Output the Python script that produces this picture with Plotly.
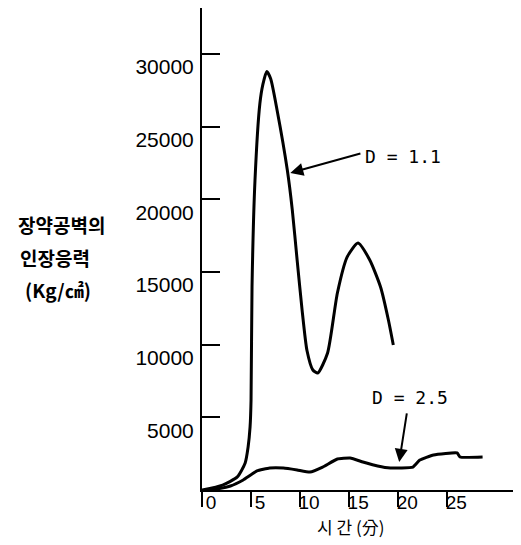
import plotly.graph_objects as go

# D = 1.1 series (time, stress)
t_d11 = [0, 2.1, 3.6, 4.4, 4.7, 4.9, 5.0, 5.1, 5.4, 5.9, 6.2, 6.6, 7.0, 7.65, 8.7, 9.2, 9.7, 10.2,
         10.7, 11.3, 11.8, 12.8, 13.8, 14.8, 15.9, 17.1, 18.2, 19.0, 19.5]
v_d11 = [0, 340, 900, 1860, 2960, 4340, 6190, 14000, 21300, 26600, 27900, 28800, 28300, 26150,
         22000, 19300, 15800, 12400, 9600, 8260, 8050, 9430, 13560, 16040, 17000, 15830, 13970,
         11700, 9980]

# D = 2.5 series
t_d25 = [0.4, 1.5, 2.9, 4.2, 5.6, 6.9, 8.3, 9.7, 11.0, 12.3, 13.8, 15.1, 16.4, 17.9, 19.2,
         21.5, 22.2, 23.6, 26.0, 26.3, 28.6]
v_d25 = [0, 70, 275, 690, 1310, 1510, 1510, 1380, 1240, 1580, 2130, 2200, 1930, 1650, 1510,
         1580, 2060, 2410, 2550, 2270, 2270]

y_ticks = [5000, 10000, 15000, 20000, 25000, 30000]
x_ticks = [0, 5, 10, 15, 20, 25]

fig = go.Figure()
fig.add_trace(go.Scatter(x=t_d11, y=v_d11, mode="lines",
                         line=dict(color="black", width=3, shape="spline", smoothing=0.6)))
fig.add_trace(go.Scatter(x=t_d25, y=v_d25, mode="lines",
                         line=dict(color="black", width=3, shape="spline", smoothing=0.4)))

fig.update_layout(
    width=513, height=537,
    margin=dict(l=194, r=8, t=0, b=55),
    paper_bgcolor="white", plot_bgcolor="white",
    showlegend=False,
    font=dict(family="Liberation Sans", color="black"),
)
fig.update_xaxes(range=[0, 31.7], showgrid=False, zeroline=False,
                 showline=True, linecolor="black", linewidth=2,
                 tickvals=x_ticks, ticktext=[str(v) for v in x_ticks],
                 ticks="outside", ticklen=15, tickwidth=2, tickcolor="black",
                 ticklabelshift=9, ticklabelstandoff=-21,
                 tickfont=dict(size=19, family="Liberation Sans"))
fig.update_yaxes(range=[0, 33170], showgrid=False, zeroline=False,
                 showline=True, linecolor="black", linewidth=2,
                 tickvals=y_ticks, ticktext=[str(v) for v in y_ticks],
                 ticks="inside", ticklen=18, tickwidth=2, tickcolor="black",
                 ticklabelshift=13, ticklabelstandoff=2,
                 tickfont=dict(size=21, family="Liberation Sans"))

# arrows
fig.add_annotation(x=9.0, y=21820, ax=16.3, ay=23190, xref="x", yref="y", axref="x", ayref="y",
                   text="", showarrow=True, arrowhead=2, arrowsize=1.3, arrowwidth=2, arrowcolor="black")
fig.add_annotation(x=20.1, y=1930, ax=20.9, ay=5370, xref="x", yref="y", axref="x", ayref="y",
                   text="", showarrow=True, arrowhead=2, arrowsize=1.3, arrowwidth=2, arrowcolor="black")
fig.add_annotation(x=16.4, y=22950, xref="x", yref="y", text="D = 1.1", showarrow=False,
                   xanchor="left", font=dict(family="DejaVu Sans Mono", size=18))
fig.add_annotation(x=17.1, y=6400, xref="x", yref="y", text="D = 2.5", showarrow=False,
                   xanchor="left", font=dict(family="DejaVu Sans Mono", size=18))

# y axis title lines (pixel positions in the 521x545 window)
def px2paper_x(px):
    return (px - 202) / 311.0

def py2paper_y(py):
    return (490 - py) / 482.0

for txt, cx, cy in [("장약공벽의", 61, 225), ("인장응력", 55, 258), ("(Kg/㎠)", 58, 290)]:
    fig.add_annotation(x=px2paper_x(cx), y=py2paper_y(cy), xref="paper", yref="paper",
                       text="<b>%s</b>" % txt, showarrow=False, xanchor="center", yanchor="middle",
                       font=dict(family="Noto Sans CJK KR", size=19))

fig.add_annotation(x=px2paper_x(350), y=py2paper_y(526), xref="paper", yref="paper",
                   text="시 간 (分)", showarrow=False, xanchor="center", yanchor="middle",
                   font=dict(family="Noto Sans CJK KR", size=17))

fig.write_html("out.html")
